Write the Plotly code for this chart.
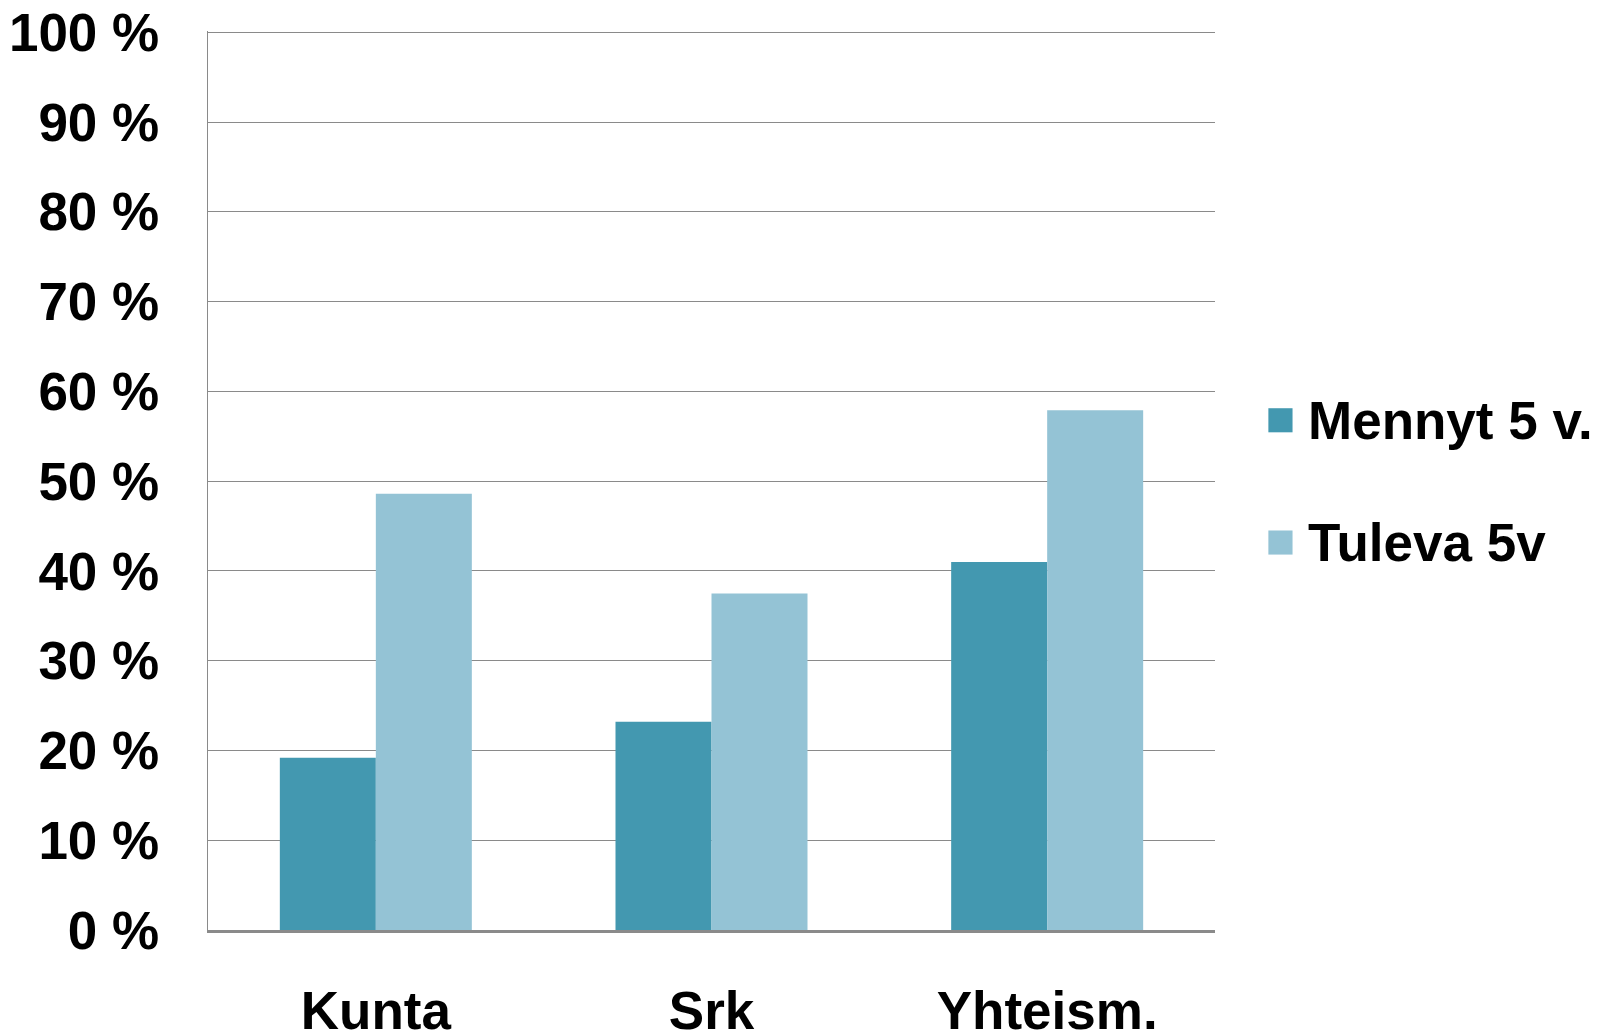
import plotly.graph_objects as go

# Share of respondents, per organisation type
categories = ["Kunta", "Srk", "Yhteism."]
series_names = ["Mennyt 5 v.", "Tuleva 5v"]
mennyt = [19.2, 23.2, 41.0]
tuleva = [48.6, 37.5, 57.9]
y_ticks = [0, 10, 20, 30, 40, 50, 60, 70, 80, 90, 100]
y_tick_labels = [f"{v} %" for v in y_ticks]

colors = ["#4398B0", "#94C3D5"]
font_family = "Liberation Sans, Arial, sans-serif"
label_size = 53

fig = go.Figure()
for name, vals, col in zip(series_names, [mennyt, tuleva], colors):
    fig.add_trace(go.Bar(
        x=categories, y=vals, name=name,
        marker=dict(color=col, line=dict(width=0)),
        showlegend=False,
    ))

fig.update_layout(
    width=1608, height=1030,
    margin=dict(l=208, r=393, t=31, b=100),
    paper_bgcolor="white", plot_bgcolor="white",
    barmode="group", bargap=0.428, bargroupgap=0,
    font=dict(family=font_family, size=label_size, color="black", weight="bold"),
)

fig.update_yaxes(
    range=[0, 100.15], tickvals=y_ticks, ticktext=y_tick_labels,
    showgrid=True, gridcolor="#8a8a8a", gridwidth=1.4,
    zeroline=False, showline=True, linecolor="#8a8a8a", linewidth=1.4,
    ticks="", ticklabelstandoff=37, automargin=False,
    tickfont=dict(family=font_family, size=label_size, color="black", weight="bold"),
)
fig.update_xaxes(
    showgrid=False, showline=True, linecolor="#8a8a8a", linewidth=2.5,
    ticks="", ticklabelstandoff=33, automargin=False,
    tickfont=dict(family=font_family, size=label_size, color="black", weight="bold"),
)

# Legend drawn as coloured squares with labels beside the plot
legend_y = [0.567, 0.431]
for name, col, ly in zip(series_names, colors, legend_y):
    fig.add_shape(
        type="rect", xref="paper", yref="paper",
        x0=1.053, x1=1.077, y0=ly - 0.0134, y1=ly + 0.0134,
        fillcolor=col, line=dict(width=0),
    )
    fig.add_annotation(
        text=name, xref="paper", yref="paper", x=1.090, y=ly,
        xanchor="left", yanchor="middle", showarrow=False,
        font=dict(family=font_family, size=label_size, color="black", weight="bold"),
    )

fig.write_html("out.html")
